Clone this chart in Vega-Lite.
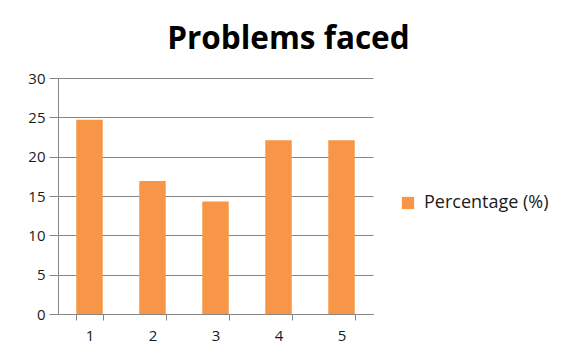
{
  "$schema": "https://vega.github.io/schema/vega-lite/v6.json",
  "autosize": {"type": "none"},
  "width": 315,
  "height": 236,
  "padding": {"left": 58, "top": 78, "right": 196, "bottom": 40},
  "background": "white",
  "title": {
    "text": "Problems faced",
    "font": "Open Sans",
    "fontSize": 31.5,
    "fontWeight": "bold",
    "color": "#000000",
    "anchor": "middle",
    "frame": "bounds",
    "offset": 16,
    "dx": 0
  },
  "data": {
    "values": [
      {"problem": "1", "percentage": 24.7},
      {"problem": "2", "percentage": 16.9},
      {"problem": "3", "percentage": 14.3},
      {"problem": "4", "percentage": 22.1},
      {"problem": "5", "percentage": 22.1}
    ]
  },
  "mark": {"type": "bar"},
  "encoding": {
    "x": {
      "field": "problem",
      "type": "ordinal",
      "scale": {"paddingInner": 0.58, "paddingOuter": 0.29},
      "axis": {
        "title": null,
        "labelAngle": 0,
        "tickBand": "extent",
        "tickSize": 6,
        "labelPadding": 8
      }
    },
    "y": {
      "field": "percentage",
      "type": "quantitative",
      "scale": {"domain": [0, 30]},
      "axis": {
        "title": null,
        "values": [0, 5, 10, 15, 20, 25, 30],
        "tickSize": 9,
        "labelPadding": 4,
        "grid": true
      }
    },
    "color": {
      "datum": "Percentage (%)",
      "type": "nominal",
      "scale": {"range": ["#F79646"]},
      "legend": {
        "title": null,
        "orient": "none",
        "legendX": 341,
        "legendY": 116,
        "symbolType": "square",
        "symbolSize": 150,
        "symbolStrokeWidth": 0,
        "labelFont": "Open Sans",
        "labelFontSize": 18,
        "labelColor": "#1a1a1a",
        "labelOffset": 7
      }
    }
  },
  "config": {
    "view": {"stroke": null},
    "axis": {
      "domainColor": "#868686",
      "tickColor": "#868686",
      "gridColor": "#868686",
      "domainWidth": 1,
      "labelFont": "Open Sans",
      "labelFontSize": 15,
      "labelColor": "#1a1a1a"
    }
  }
}
